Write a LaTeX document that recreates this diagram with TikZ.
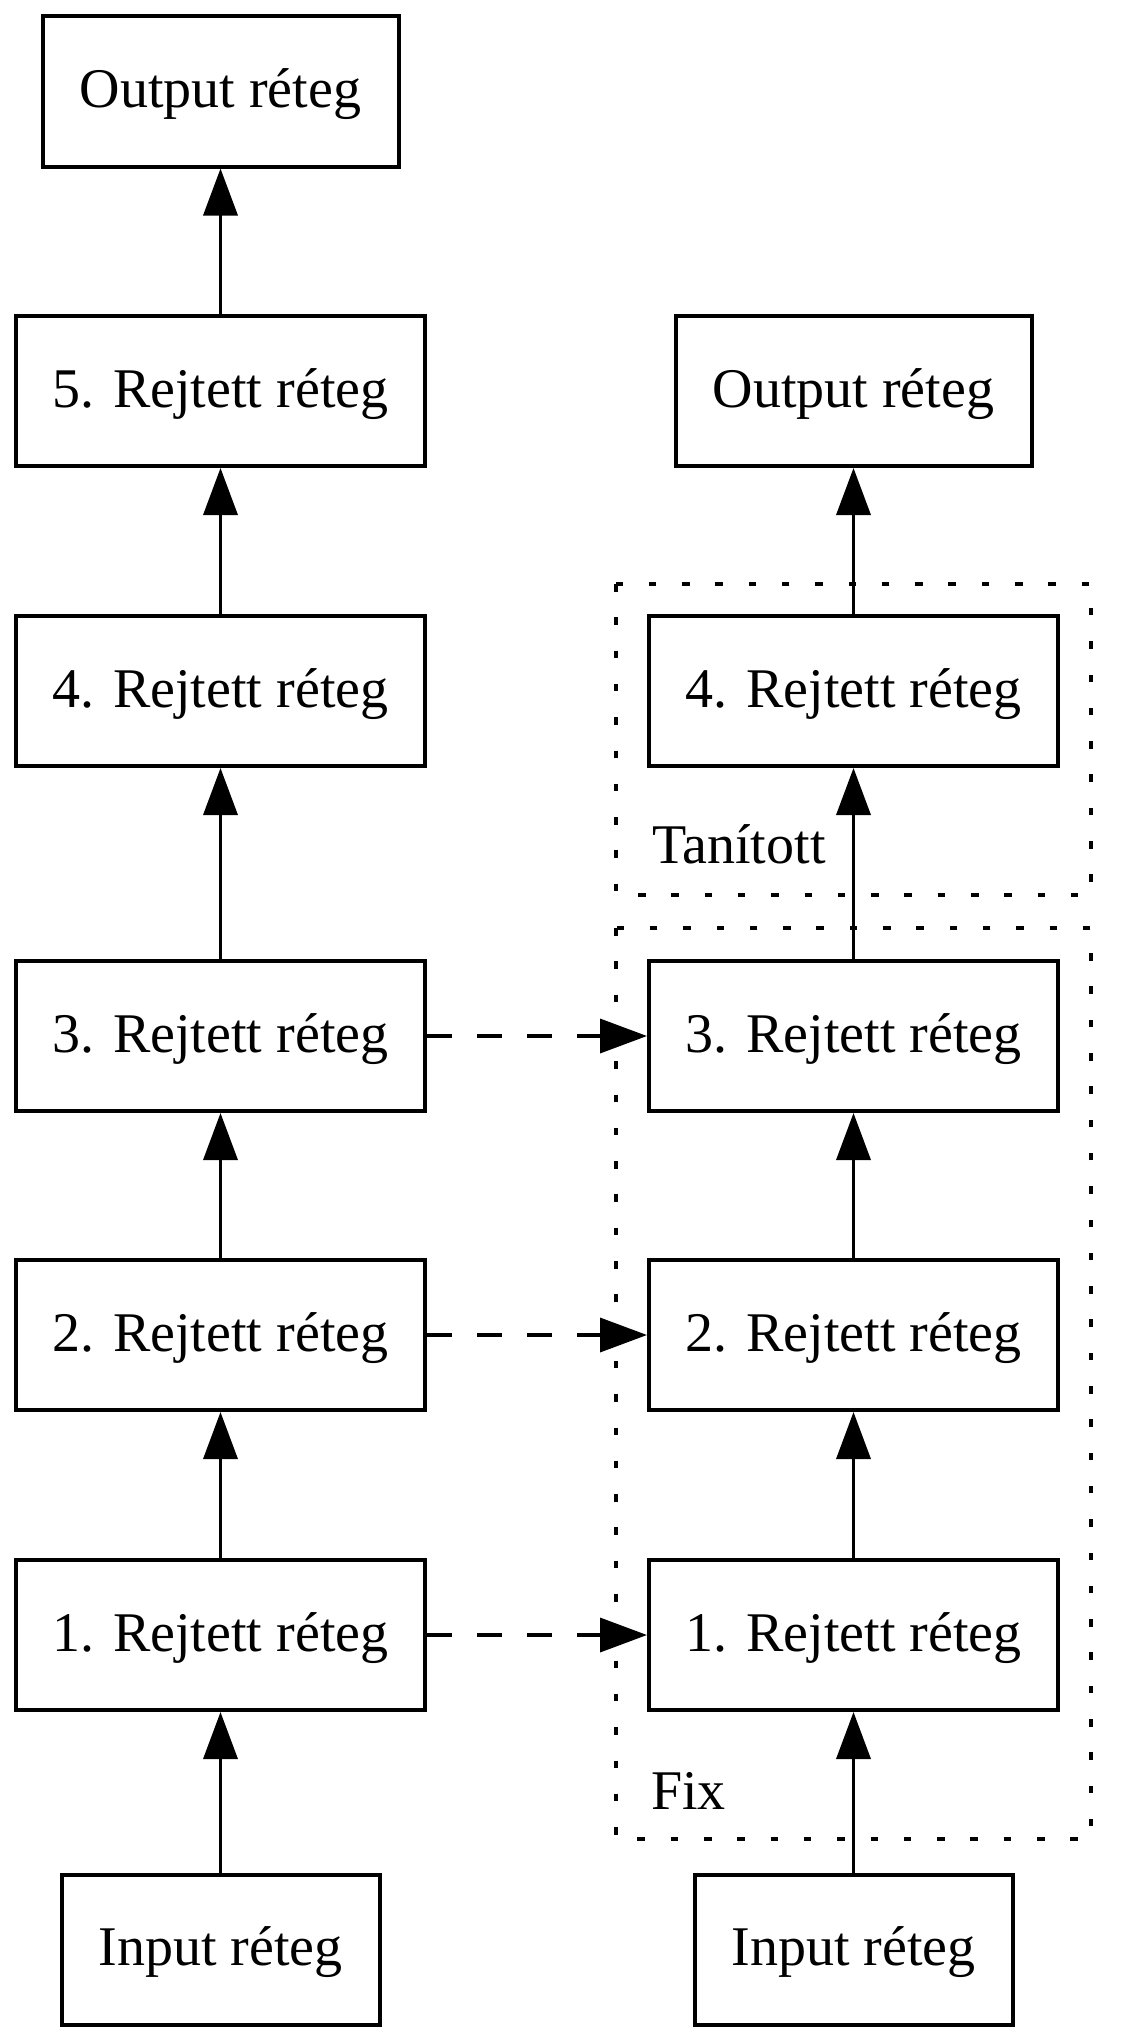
\documentclass[tikz,border=0pt]{standalone}
\usepackage{fontspec}
\setmainfont{Liberation Serif}
\usetikzlibrary{arrows.meta}
\begin{document}
\begin{tikzpicture}[x=1pt,y=1pt,
  box/.style={draw, line width=4pt, minimum height=150pt, inner sep=0pt,
    font=\fontsize{56}{66}\selectfont, text height=40pt, text depth=8pt},
  hid/.style={box, minimum width=409pt},
  outb/.style={box, minimum width=356pt},
  inb/.style={box, minimum width=318pt},
  arr/.style={line width=3.6pt, -{Triangle[length=47pt,width=34pt]}},
  darr/.style={arr, dash pattern=on 25pt off 25pt},
  dotbox/.style={line width=3.6pt, dash pattern=on 7.5pt off 25.8pt},
  lbl/.style={anchor=base west, inner sep=0pt, font=\fontsize{56}{66}\selectfont}]
\useasboundingbox (0,0) rectangle (1142,-2042);

% dotted groups
\draw[dotbox] (616,-584) rectangle (1091,-895);
\draw[dotbox] (616,-928) rectangle (1091,-1839);
\node[lbl] (tlab) at (652,-863) {Tanított};
\node[lbl] (flab) at (651,-1809) {Fix};

% left column
\node[outb] (lo) at (220.5,-91.5) {Output réteg};
\node[hid] (l5) at (220.5,-391) {5. Rejtett réteg};
\node[hid] (l4) at (220.5,-691) {4. Rejtett réteg};
\node[hid] (l3) at (220.5,-1036) {3. Rejtett réteg};
\node[hid] (l2) at (220.5,-1335) {2. Rejtett réteg};
\node[hid] (l1) at (220.5,-1635) {1. Rejtett réteg};
\node[inb] (li) at (220.5,-1949.5) {Input réteg};

% right column
\node[outb] (ro) at (853.5,-391) {Output réteg};
\node[hid] (r4) at (853.5,-691) {4. Rejtett réteg};
\node[hid] (r3) at (853.5,-1036) {3. Rejtett réteg};
\node[hid] (r2) at (853.5,-1335) {2. Rejtett réteg};
\node[hid] (r1) at (853.5,-1635) {1. Rejtett réteg};
\node[inb] (ri) at (853.5,-1949.5) {Input réteg};

% left arrows
\draw[arr] (li.north) -- (l1.south);
\draw[arr] (l1.north) -- (l2.south);
\draw[arr] (l2.north) -- (l3.south);
\draw[arr] (l3.north) -- (l4.south);
\draw[arr] (l4.north) -- (l5.south);
\draw[arr] (l5.north) -- (lo.south);

% right arrows
\draw[arr] (ri.north) -- (r1.south);
\draw[arr] (r1.north) -- (r2.south);
\draw[arr] (r2.north) -- (r3.south);
\draw[arr] (r3.north) -- (r4.south);
\draw[arr] (r4.north) -- (ro.south);

% transfer arrows
\draw[darr] (l3.east) -- (r3.west);
\draw[darr] (l2.east) -- (r2.west);
\draw[darr] (l1.east) -- (r1.west);
\end{tikzpicture}
\end{document}
